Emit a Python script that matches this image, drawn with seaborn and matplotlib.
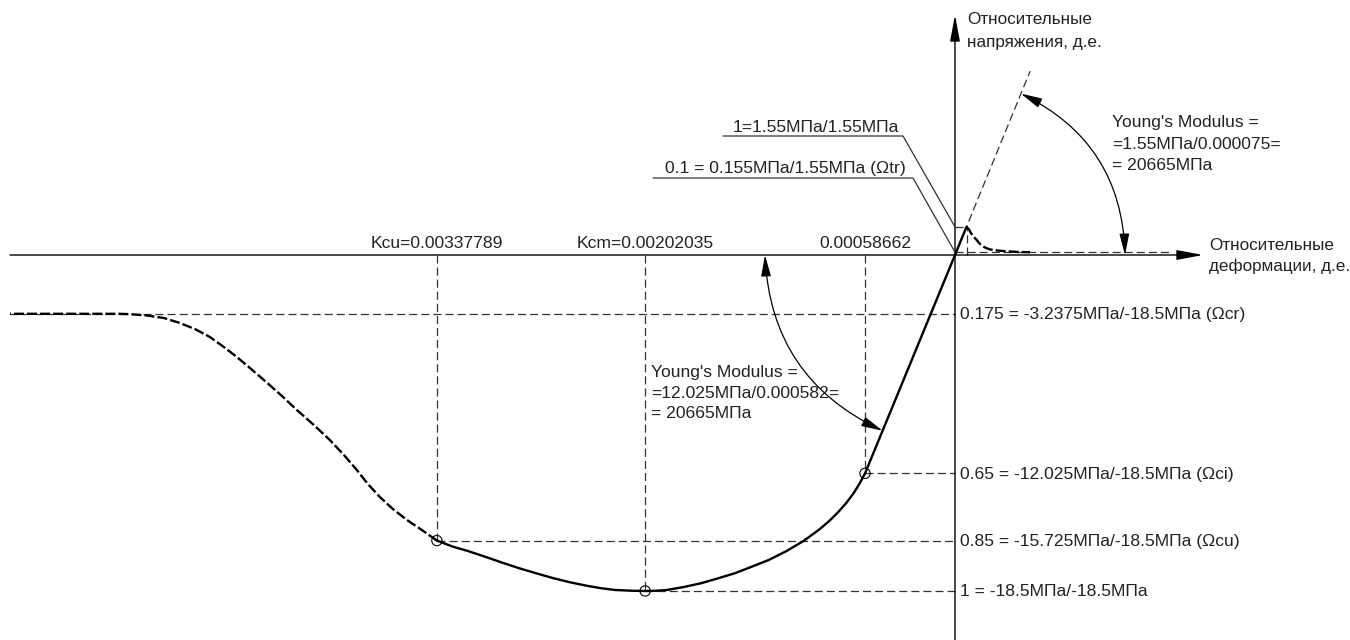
import matplotlib
matplotlib.use("Agg")
import matplotlib.pyplot as plt
import numpy as np
import pandas as pd
import seaborn as sns

# ---------------------------------------------------------------------------
# Concrete stress-strain diagram (strain in relative units, compression < 0;
# stress in MPa, compression < 0)
# ---------------------------------------------------------------------------
f_c = -18.5            # compressive strength, MPa
f_t = 1.55             # tensile strength, MPa
eps_t = 0.000075       # strain at tensile peak
E_young = 20665        # Young's modulus, MPa

# compressive reference levels
level_ratio = ["0.175", "0.65", "0.85", "1"]
level_stress = [-3.2375, -12.025, -15.725, -18.5]
level_tag = [" (Ωcr)", " (Ωci)", " (Ωcu)", ""]

# characteristic compressive strains
key_strain = [-0.00337789, -0.00202035, -0.00058662]
key_stress = [-15.725, -18.5, -12.025]
key_label = ["Kcu=0.00337789", "Kcm=0.00202035", "0.00058662"]

# elastic branch (tension peak down to the end of linear compression)
elastic_strain = [0.000075, 0.0, -0.00058662]
elastic_stress = [1.55, 0.0, -12.025]

# non-linear compression: hardening to Kcm, softening to Kcu
plastic_strain = [-0.00058662, -0.000620, -0.000660, -0.000709, -0.000761,
                  -0.000820, -0.000889, -0.000988, -0.001098, -0.001215,
                  -0.001330, -0.001436, -0.001549, -0.001657, -0.001768,
                  -0.001879, -0.001954, -0.00202035,
                  -0.002101, -0.002215, -0.002303, -0.002392, -0.002504,
                  -0.002616, -0.002726, -0.002840, -0.002955, -0.003064,
                  -0.003176, -0.003277, -0.00337789]
plastic_stress = [-12.025, -12.555, -13.106, -13.656, -14.152,
                  -14.648, -15.143, -15.749, -16.30, -16.795,
                  -17.181, -17.527, -17.814, -18.078, -18.282,
                  -18.447, -18.49, -18.5,
                  -18.49, -18.447, -18.354, -18.227, -18.034,
                  -17.803, -17.538, -17.252, -16.933, -16.613,
                  -16.30, -16.052, -15.725]

# descending branch after Kcu down to the residual level
residual_strain = [-0.00337789, -0.003476, -0.003573, -0.003665, -0.003750,
                   -0.003828, -0.003900, -0.003984, -0.004076, -0.004180,
                   -0.004291, -0.004395, -0.004506, -0.004597, -0.004682,
                   -0.004767, -0.004858, -0.004956, -0.005054, -0.005158,
                   -0.005269, -0.005366, -0.005445, -0.006161]
residual_stress = [-15.725, -15.143, -14.592, -13.987, -13.326,
                   -12.610, -11.839, -11.013, -10.187, -9.361,
                   -8.535, -7.709, -6.883, -6.222, -5.617,
                   -5.066, -4.515, -4.075, -3.744, -3.469,
                   -3.331, -3.265, -3.2375, -3.2375]

# tension softening after the peak down to 0.1*f_t
tension_strain = [0.000075, 0.000090, 0.000104, 0.000122, 0.0001415,
                  0.000155, 0.0001695, 0.000188, 0.0002067, 0.000228,
                  0.000248, 0.000270, 0.000293, 0.000325, 0.000359,
                  0.000424, 0.000489]
tension_stress = [1.55, 1.42, 1.21, 1.00, 0.826,
                  0.68, 0.55, 0.45, 0.369, 0.31,
                  0.275, 0.252, 0.237, 0.212, 0.193,
                  0.165, 0.155]

# ---------------------------------------------------------------------------
sns.set_theme(style="white")
plt.rcParams["font.family"] = ["Liberation Sans", "DejaVu Sans"]
plt.rcParams["lines.scale_dashes"] = False

W, H, DPI = 1350, 640, 100
FS = 12.6
FS_TITLE = 12.3
TXT = "#222222"
THIN = "#333333"
REF_DASH = (0, (5.8, 2.9))
CURVE_DASH = (0, (7.2, 2.2))

fig = plt.figure(figsize=(W / DPI, H / DPI), dpi=DPI)
fig.patch.set_facecolor("white")
ax = fig.add_axes([0, 0, 1, 1])
ax.set_xlim(-955 / 153380, 395 / 153380)
ax.set_ylim(-385 / 18.16, 255 / 18.16)
ax.axis("off")


def to_data(px, py):
    """Figure pixel position (origin top-left) -> data coordinates."""
    return ax.transData.inverted().transform((px, H - py))


x_left = to_data(10, 0)[0]
x_tip = to_data(1203, 0)[0]
y_tip = to_data(0, 15)[1]
y_bot = ax.get_ylim()[0]

# coordinate axes with arrow heads
axis_arrow = dict(arrowstyle="-|>,head_length=1.6,head_width=0.3",
                  color="black", lw=1.0, shrinkA=0, shrinkB=0,
                  mutation_scale=10)
ax.annotate("", xy=(x_tip, 0), xytext=(x_left, 0), arrowprops=axis_arrow)
ax.annotate("", xy=(0, y_tip), xytext=(0, y_bot), arrowprops=axis_arrow)

# reference (projection) lines
ref = dict(color=THIN, lw=0.9, linestyle=REF_DASH, zorder=2)
ax.plot([residual_strain[-1], 0], [level_stress[0]] * 2, **ref)
for xs, ys in zip(key_strain, key_stress):
    ax.plot([xs, 0], [ys, ys], **ref)
    ax.plot([xs, xs], [0, ys], **ref)
ax.plot([0, eps_t], [f_t, f_t], **ref)
ax.plot([eps_t, eps_t], [0, f_t], **ref)
ax.plot([0, to_data(1170, 0)[0]], [tension_stress[-1]] * 2, **ref)
slope_end = 0.00049
ax.plot([0, slope_end], [0, f_t / eps_t * slope_end], **ref)

# stress-strain curve
solid = dict(color="black", linewidth=1.7, sort=False, estimator=None,
             ax=ax, zorder=4)
sns.lineplot(x=elastic_strain, y=elastic_stress, **solid)
sns.lineplot(x=plastic_strain, y=plastic_stress, **solid)
dashed = dict(solid, linestyle=CURVE_DASH)
sns.lineplot(x=residual_strain, y=residual_stress, **dashed)
sns.lineplot(x=tension_strain, y=tension_stress, **dashed)

# characteristic points
sns.scatterplot(x=key_strain, y=key_stress, marker="o", s=55,
                facecolor="none", edgecolor="black", linewidth=0.8,
                ax=ax, zorder=5)

# level labels to the right of the stress axis
for r, s, tag in zip(level_ratio, level_stress, level_tag):
    ax.annotate(f"{r} = {s:g}МПа/{f_c:g}МПа{tag}", xy=(0, s),
                xytext=(5, -1), textcoords="offset pixels",
                ha="left", va="center", fontsize=FS, color=TXT)

# strain labels above the strain axis
for xs, lab in zip(key_strain, key_label):
    ax.annotate(lab, xy=(xs, 0), xytext=(0, 12), textcoords="offset pixels",
                ha="center", va="center", fontsize=FS, color=TXT)

# axis titles
fig.text(967 / W, 1 - 20 / H, "Относительные", fontsize=FS_TITLE, color=TXT,
         ha="left", va="center")
fig.text(967 / W, 1 - 42 / H, "напряжения, д.е.", fontsize=FS_TITLE,
         color=TXT, ha="left", va="center")
fig.text(1209 / W, 1 - 245 / H, "Относительные", fontsize=FS_TITLE,
         color=TXT, ha="left", va="center")
fig.text(1209 / W, 1 - 266 / H, "деформации, д.е.", fontsize=FS_TITLE,
         color=TXT, ha="left", va="center")

# tension leaders
leaders = [
    ("1=1.55МПа/1.55МПа", (733, 127), [(723, 136), (903, 136)], (0, f_t)),
    ("0.1 = 0.155МПа/1.55МПа (Ωtr)", (665, 168), [(653, 178), (913, 178)],
     (0, tension_stress[-1])),
]
for text, (tx, ty), elbow, target in leaders:
    pts = [to_data(*p) for p in elbow] + [np.array(target)]
    ax.plot([p[0] for p in pts], [p[1] for p in pts], color=THIN, lw=0.9,
            zorder=3)
    fig.text(tx / W, 1 - ty / H, text, fontsize=FS, color=TXT,
             ha="left", va="center")

# Young's modulus arcs
arc_arrow = dict(arrowstyle="<|-|>,head_length=1.3,head_width=0.3",
                 color="black", lw=0.9, shrinkA=0, shrinkB=0,
                 mutation_scale=10)
r_right = 0.00043
ax.annotate("", xy=(to_data(1125, 0)[0], 0),
            xytext=(r_right, f_t / eps_t * r_right),
            arrowprops=dict(arc_arrow, connectionstyle="arc3,rad=-0.30"))
r_left = -0.000472
ax.annotate("", xy=(r_left, key_stress[2] / key_strain[2] * r_left),
            xytext=(to_data(765, 0)[0], 0),
            arrowprops=dict(arc_arrow, connectionstyle="arc3,rad=0.30"))

young_right = ["Young's Modulus =", "=1.55МПа/0.000075=", "= 20665МПа"]
young_left = ["Young's Modulus =", "=12.025МПа/0.000582=", "= 20665МПа"]
for i, line in enumerate(young_right):
    fig.text(1112 / W, 1 - (123 + 21.5 * i) / H, line, fontsize=FS,
             color=TXT, ha="left", va="center")
for i, line in enumerate(young_left):
    fig.text(651 / W, 1 - (372 + 21 * i) / H, line, fontsize=FS,
             color=TXT, ha="left", va="center")

fig.savefig("out.png", dpi=DPI, facecolor="white")
